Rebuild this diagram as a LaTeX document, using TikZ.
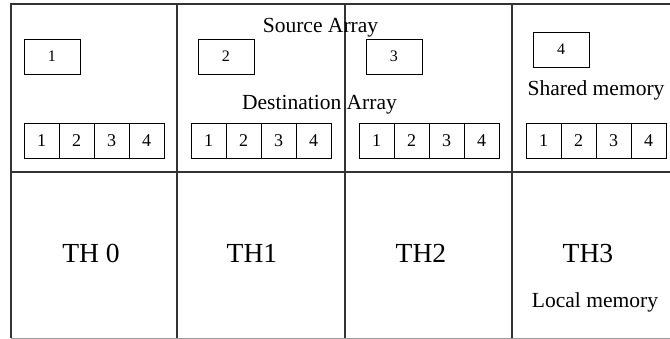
\documentclass[tikz,border=0pt]{standalone}
\usepackage{fontspec}
\setmainfont{Liberation Serif}
\usetikzlibrary{positioning}

\begin{document}
\begin{tikzpicture}[
  x=0.025cm, y=-0.025cm,
  node distance=0pt,
  frame/.style={draw=black!80,line width=0.75pt},
  srcbox/.style={draw,rectangle,line width=0.6pt,minimum width=1.4cm,minimum height=0.875cm,
    inner sep=0pt,outer sep=0pt,font=\fontsize{11.4}{12}\selectfont},
  cell/.style={draw,rectangle,line width=0.6pt,minimum width=0.875cm,minimum height=0.875cm,
    inner sep=0pt,outer sep=0pt,font=\fontsize{12.8}{14}\selectfont},
  memtext/.style={anchor=base,inner sep=0pt,font=\fontsize{15.3}{17}\selectfont},
  thtext/.style={anchor=base,inner sep=0pt,font=\fontsize{19.6}{22}\selectfont}
]
\useasboundingbox (0,0) rectangle (670,339);

% memory grid
\draw[frame] (670,4) -- (11,4) -- (11,338);
\draw[frame] (11,172) -- (670,172);
\draw[frame] (177,4) -- (177,338)
             (345,4) -- (345,338)
             (512,4) -- (512,338);
\draw[draw=black!40,line width=0.6pt] (11,338) -- (670,338);

% source elements
\node[srcbox] (s1) at (52,56.5) {1};
\node[srcbox] (s2) at (226,56.5) {2};
\node[srcbox] (s3) at (394,56.5) {3};
\node[srcbox] (s4) at (561,49.5) {4};

% destination arrays
\node[cell] (a1) at (41.5,140.5) {1};
\node[cell,right=of a1] (a2) {2};
\node[cell,right=of a2] (a3) {3};
\node[cell,right=of a3] (a4) {4};

\node[cell] (b1) at (208.5,140.5) {1};
\node[cell,right=of b1] (b2) {2};
\node[cell,right=of b2] (b3) {3};
\node[cell,right=of b3] (b4) {4};

\node[cell] (c1) at (376.5,140.5) {1};
\node[cell,right=of c1] (c2) {2};
\node[cell,right=of c2] (c3) {3};
\node[cell,right=of c3] (c4) {4};

\node[cell] (d1) at (543.5,140.5) {1};
\node[cell,right=of d1] (d2) {2};
\node[cell,right=of d2] (d3) {3};
\node[cell,right=of d3] (d4) {4};

% labels
\node[memtext] (src) at (320.5,32.7) {Source Array};
\node[memtext] (dst) at (319.5,110) {Destination Array};
\node[memtext] (shm) at (596,96) {Shared memory};
\node[memtext] (lcm) at (595,308) {Local memory};

\node[thtext] (th0) at (91,263) {TH 0};
\node[thtext] (th1) at (252,263) {TH1};
\node[thtext] (th2) at (421,263) {TH2};
\node[thtext] (th3) at (588,263) {TH3};

\end{tikzpicture}
\end{document}
